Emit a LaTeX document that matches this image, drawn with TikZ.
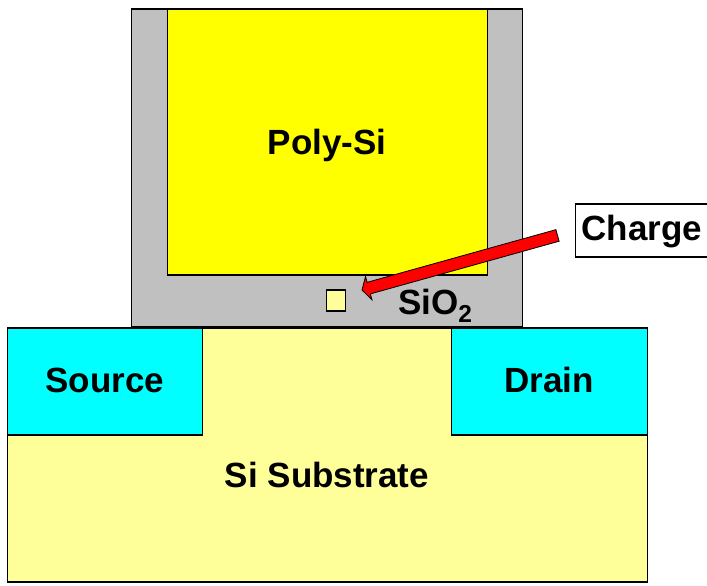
\documentclass[tikz,border=0pt]{standalone}
\usepackage{fontspec}
\setmainfont{Liberation Sans}
\usepackage{tikz}
\usetikzlibrary{calc}
\usetikzlibrary{positioning}
\definecolor{oxide}{HTML}{C0C0C0}
\definecolor{polysi}{HTML}{FFFF00}
\definecolor{substrate}{HTML}{FFFF99}
\definecolor{doped}{HTML}{00FFFF}
\tikzset{
  layerbox/.style = {draw = black, line width = 1.2pt, inner sep = 0pt, outer sep = 0pt},
  layerlabel/.style = {inner sep = 0pt, font = \fontsize{35}{40}\selectfont\bfseries}
}
\begin{document}
\begin{tikzpicture}[x = 1pt,y = -1pt]
        \useasboundingbox (0,0) rectangle (707,586);
        \node[layerbox,fill = substrate,minimum width = 640,minimum height = 254] (sub) at (327.2,455) {};
        \node[layerbox,fill = doped,minimum width = 195,minimum height = 107] (source) at (104.7,381.5) {};
        \node[layerbox,fill = doped,minimum width = 196,minimum height = 107] (drain) at (549.2,381.5) {};
        \node[layerbox,fill = oxide,minimum width = 391,minimum height = 318] (oxide) at (326.7,168) {};
        \node[layerbox,fill = polysi,minimum width = 320,minimum height = 266] (poly) at (327.2,142) {};
        \node[layerbox,fill = substrate,minimum width = 18.5,minimum height = 21] (trap) at (335.9,300.5) {};
        \node[layerlabel] at (104.7,380) (sourcelabel) {Source};
        \node[layerlabel] at (549.3,380) (drainlabel) {Drain};
        \node[layerlabel] at (327,475) (sublabel) {Si Substrate};
        \node[layerlabel] at (327,145.5) (polylabel) {Poly-Si};
        \node[layerlabel] at (435.3,306) (oxlabel) {SiO\textsubscript{2}};
        \node[layerbox,fill = white,minimum width = 133,minimum height = 53] (charge) at (641.7,230.5) {};
        \node[layerlabel] at (642,232) (chargelabel) {Charge};
        \coordinate (tip) at (362,290);
        \coordinate (neck) at ($(tip)!7pt!(charge.west)$);
        \coordinate (tail) at ($(tip)!203pt!(charge.west)$);
        \filldraw[fill = red,draw = black,line width = 0.8pt] (tip) -- ($(neck)!12pt!90:(tip)$) -- ($(neck)!6pt!90:(tip)$) -- ($(tail)!6pt!90:(tip)$) -- ($(tail)!6pt!-90:(tip)$) -- ($(neck)!6pt!-90:(tip)$) -- ($(neck)!12pt!-90:(tip)$) -- cycle;
      \end{tikzpicture}
\end{document}
